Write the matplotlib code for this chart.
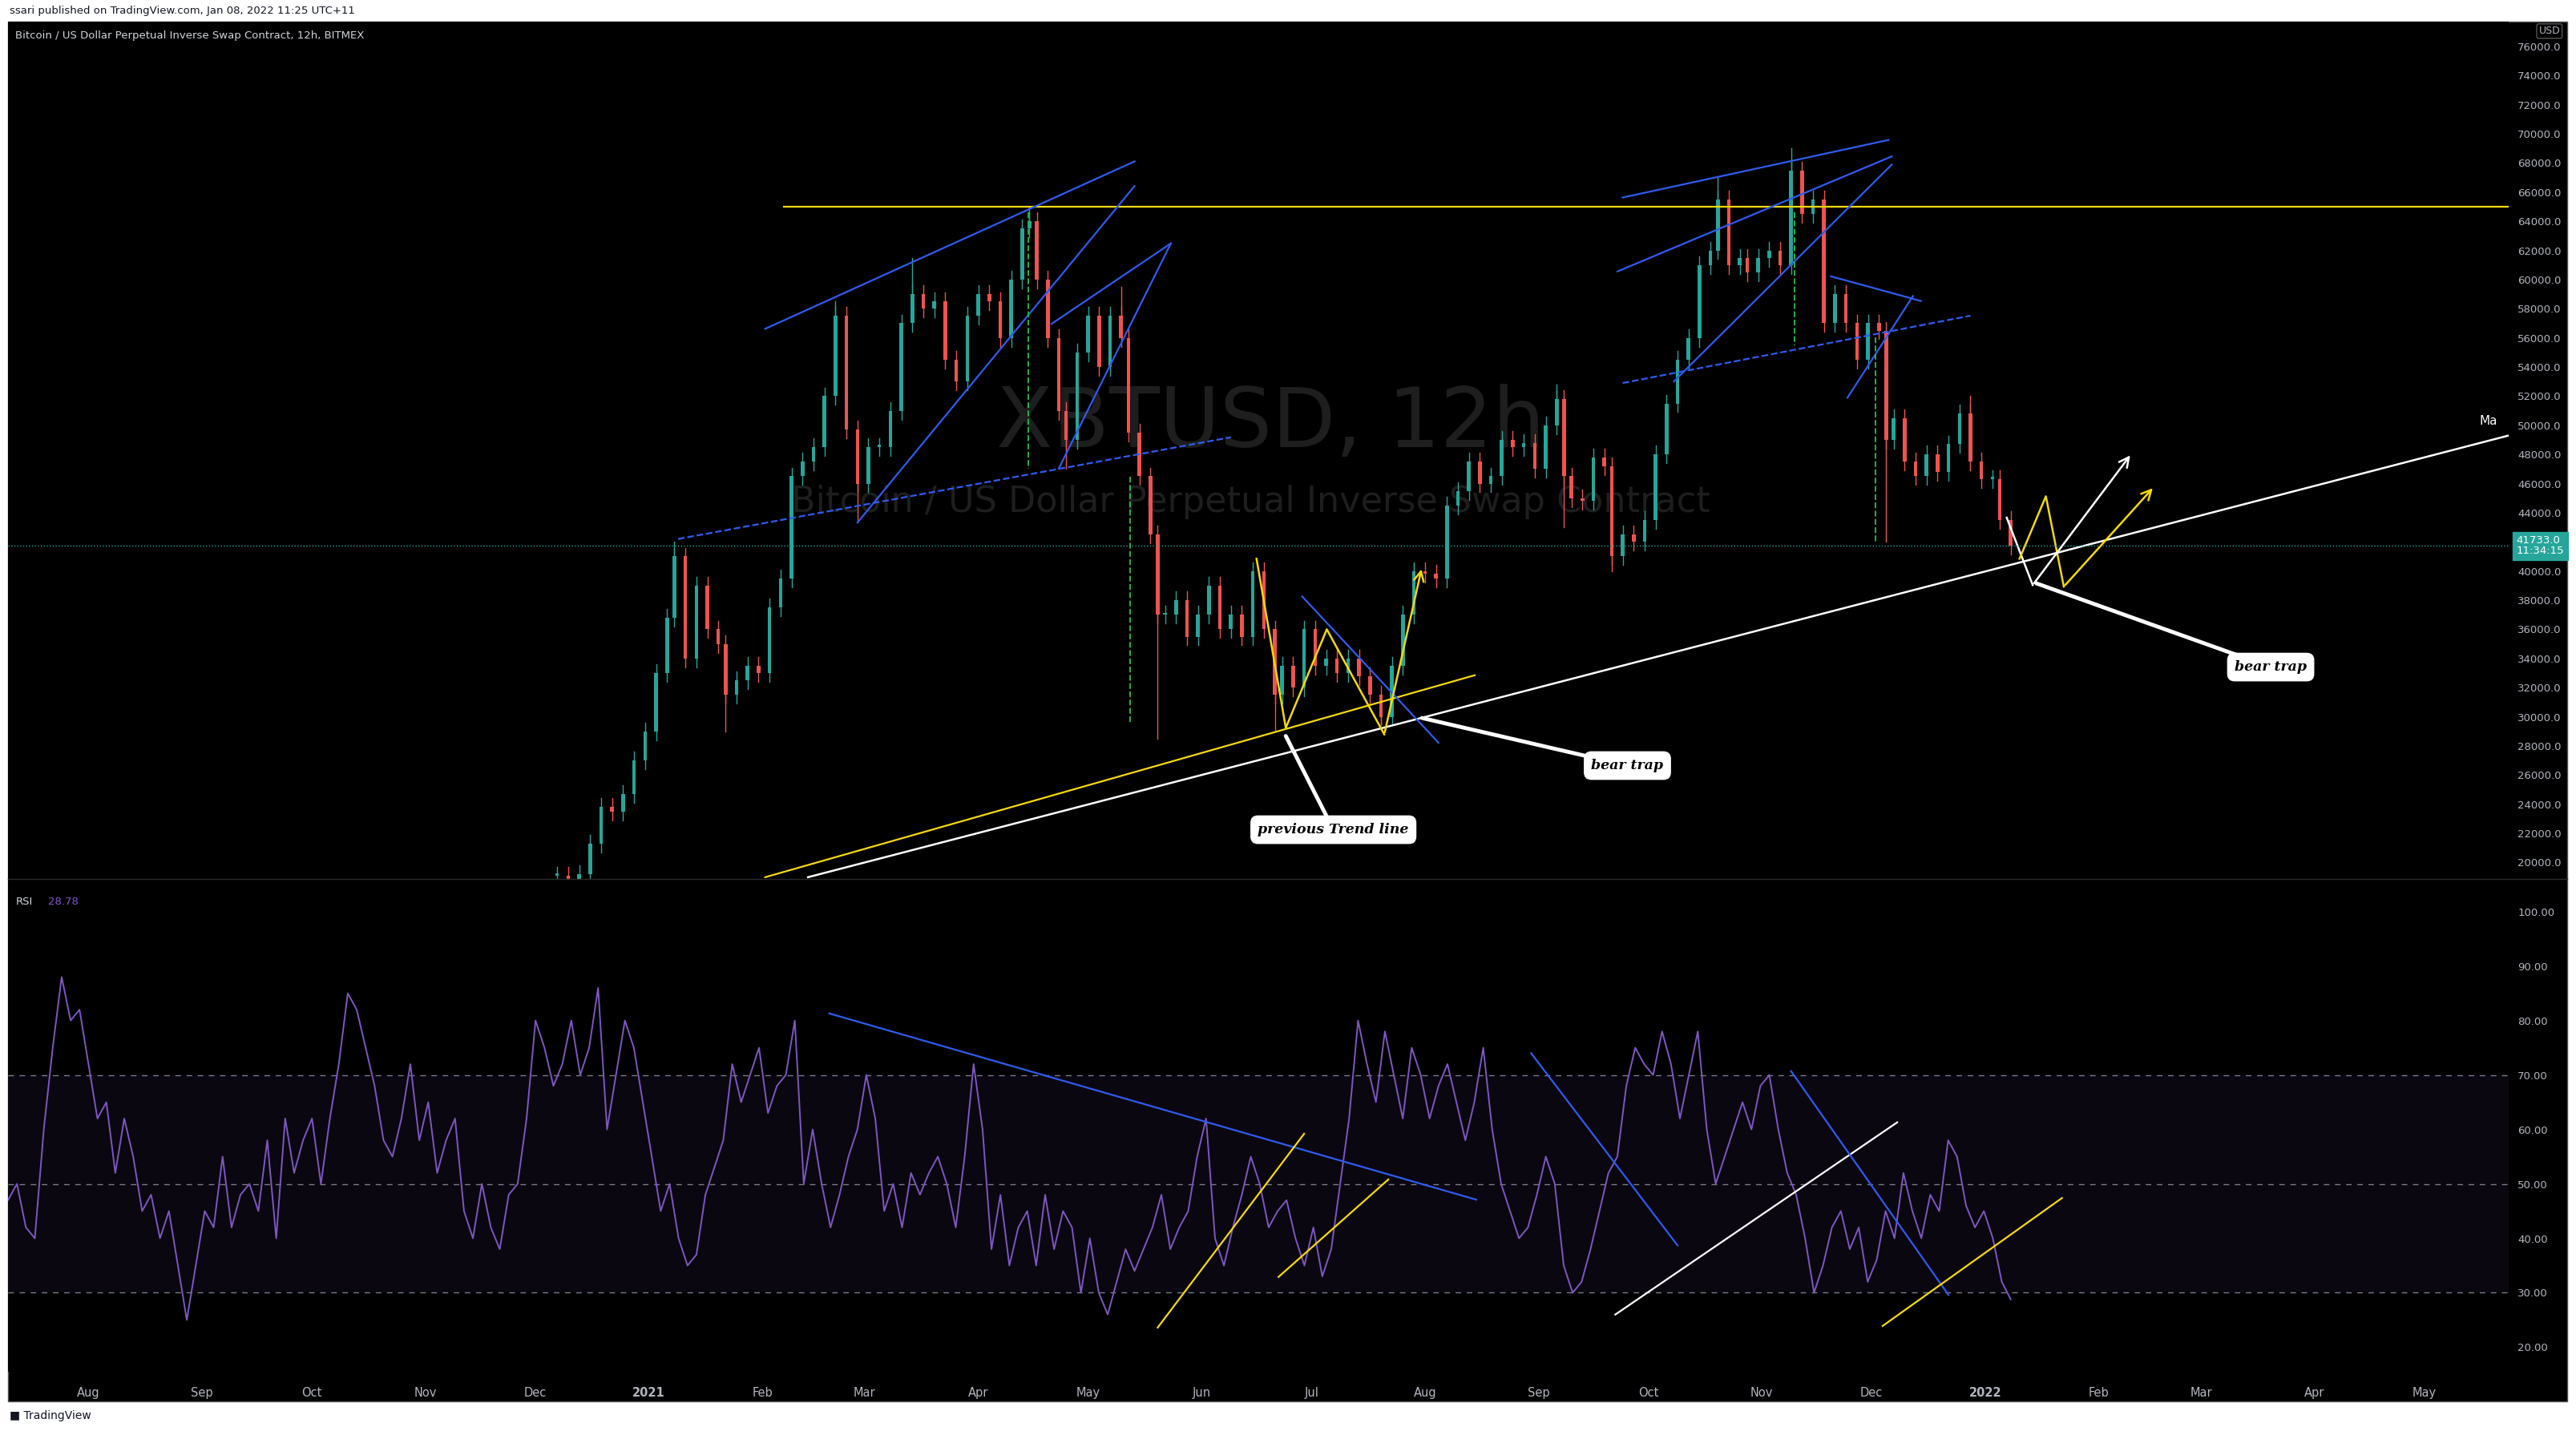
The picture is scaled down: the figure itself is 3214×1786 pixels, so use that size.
import numpy as np
import pandas as pd
import matplotlib
matplotlib.use("Agg")
import matplotlib.pyplot as plt
import matplotlib.dates as mdates
from matplotlib.patches import Rectangle

plt.rcParams['font.family'] = ['DejaVu Sans']

# ---- price data (approx. closes, ~3 day steps) ----
candle_dates = ["2020-12-07", "2020-12-10", "2020-12-13", "2020-12-16", "2020-12-19", "2020-12-22",
                "2020-12-25", "2020-12-28", "2020-12-31", "2021-01-03", "2021-01-06", "2021-01-08",
                "2021-01-11", "2021-01-14", "2021-01-17", "2021-01-20", "2021-01-22", "2021-01-25",
                "2021-01-28", "2021-01-31", "2021-02-03", "2021-02-06", "2021-02-09", "2021-02-12",
                "2021-02-15", "2021-02-18", "2021-02-21", "2021-02-24", "2021-02-27", "2021-03-02",
                "2021-03-05", "2021-03-08", "2021-03-11", "2021-03-14", "2021-03-17", "2021-03-20",
                "2021-03-23", "2021-03-26", "2021-03-29", "2021-04-01", "2021-04-04", "2021-04-07",
                "2021-04-10", "2021-04-13", "2021-04-15", "2021-04-17", "2021-04-20", "2021-04-23",
                "2021-04-25", "2021-04-28", "2021-05-01", "2021-05-04", "2021-05-07", "2021-05-10",
                "2021-05-12", "2021-05-15", "2021-05-18", "2021-05-20", "2021-05-22", "2021-05-25",
                "2021-05-28", "2021-05-31", "2021-06-03", "2021-06-06", "2021-06-09", "2021-06-12",
                "2021-06-15", "2021-06-18", "2021-06-21", "2021-06-23", "2021-06-26", "2021-06-29",
                "2021-07-02", "2021-07-05", "2021-07-08", "2021-07-11", "2021-07-14", "2021-07-17",
                "2021-07-20", "2021-07-23", "2021-07-26", "2021-07-29", "2021-08-01", "2021-08-04",
                "2021-08-07", "2021-08-10", "2021-08-13", "2021-08-16", "2021-08-19", "2021-08-22",
                "2021-08-25", "2021-08-28", "2021-08-31", "2021-09-03", "2021-09-06", "2021-09-08",
                "2021-09-10", "2021-09-13", "2021-09-16", "2021-09-19", "2021-09-21", "2021-09-24",
                "2021-09-27", "2021-09-30", "2021-10-03", "2021-10-06", "2021-10-09", "2021-10-12",
                "2021-10-15", "2021-10-18", "2021-10-20", "2021-10-23", "2021-10-26", "2021-10-28",
                "2021-10-31", "2021-11-03", "2021-11-06", "2021-11-09", "2021-11-12", "2021-11-15",
                "2021-11-18", "2021-11-21", "2021-11-24", "2021-11-27", "2021-11-30", "2021-12-03",
                "2021-12-05", "2021-12-07", "2021-12-10", "2021-12-13", "2021-12-16", "2021-12-19",
                "2021-12-22", "2021-12-25", "2021-12-28", "2021-12-31", "2022-01-03", "2022-01-05",
                "2022-01-08"]
closes = [19100, 18500, 19200, 21300, 23800, 23500,
          24700, 27000, 29000, 33000, 36800, 41000,
          34000, 39000, 36000, 35000, 31500, 32500,
          33500, 33000, 37500, 39500, 46500, 47500,
          48500, 52000, 57500, 49700, 46000, 48500,
          48500, 51000, 57000, 59000, 58000, 58500,
          54500, 53000, 57500, 59000, 58500, 56000,
          60000, 63500, 64000, 60000, 56000, 51000,
          49000, 55000, 57500, 54000, 57500, 56000,
          49500, 46500, 42500, 37000, 37000, 38000,
          35500, 37000, 39000, 36000, 37000, 35500,
          40000, 36000, 31500, 33500, 32000, 36000,
          33500, 34000, 33000, 34000, 32800, 31500,
          30000, 33500, 37000, 40000, 39800, 39500,
          44500, 45500, 47500, 46000, 46500, 49000,
          48500, 48800, 47000, 50000, 51800, 46500,
          45000, 44800, 47800, 47200, 41000, 42500,
          42000, 43500, 48000, 51500, 54500, 56000,
          61000, 62000, 65500, 61000, 61500, 60500,
          61500, 62000, 61000, 67500, 64500, 65500,
          57000, 59000, 57000, 54500, 57000, 56500,
          49000, 50500, 47500, 46500, 48000, 46800,
          48700, 50800, 47500, 46300, 46300, 43500,
          41733]
wick_dates = ["2021-01-08", "2021-01-22", "2021-02-21", "2021-02-27", "2021-03-14", "2021-04-15",
              "2021-04-25", "2021-05-10", "2021-05-20", "2021-06-21", "2021-07-20", "2021-07-29",
              "2021-09-06", "2021-09-08", "2021-09-21", "2021-10-20", "2021-11-09", "2021-12-05",
              "2021-12-28"]
wick_vals = [42000, 29000, 58500, 43500, 61500, 65000,
             47000, 59500, 28500, 29000, 29500, 40500,
             52800, 43000, 40000, 67000, 69000, 42000,
             52000]

# ---- RSI (14) readings ----
rsi_vals = [47, 50, 42, 40, 60, 75, 88, 80, 82, 72, 62, 65, 52, 62, 55, 45, 48, 40, 45, 35,
            25, 35, 45, 42, 55, 42, 48, 50, 45, 58, 40, 62, 52, 58, 62, 50, 62, 72, 85, 82,
            75, 68, 58, 55, 62, 72, 58, 65, 52, 58, 62, 45, 40, 50, 42, 38, 48, 50, 62, 80,
            75, 68, 72, 80, 70, 75, 86, 60, 70, 80, 75, 65, 55, 45, 50, 40, 35, 37, 48, 53,
            58, 72, 65, 70, 75, 63, 68, 70, 80, 50, 60, 50, 42, 48, 55, 60, 70, 62, 45, 50,
            42, 52, 48, 52, 55, 50, 42, 55, 72, 60, 38, 48, 35, 42, 45, 35, 48, 38, 45, 42,
            30, 40, 30, 26, 32, 38, 34, 38, 42, 48, 38, 42, 45, 55, 62, 40, 35, 42, 48, 55,
            50, 42, 45, 47, 40, 35, 42, 33, 38, 50, 62, 80, 72, 65, 78, 70, 62, 75, 70, 62,
            68, 72, 65, 58, 65, 75, 60, 50, 45, 40, 42, 48, 55, 50, 35, 30, 32, 38, 45, 52,
            55, 68, 75, 72, 70, 78, 72, 62, 70, 78, 60, 50, 55, 60, 65, 60, 68, 70, 60, 52,
            48, 40, 30, 35, 42, 45, 38, 42, 32, 36, 45, 40, 52, 45, 40, 48, 45, 58, 55, 46,
            42, 45, 40, 32, 28.78]

# ---- drawings: (days after 2021-01-01, value) ----
price_lines = [
    ((37, 65000), (508, 65000), '#f5d90a', '-', 1.6),
    ((43.5, 18990), (508, 49300), 'white', '-', 1.8),
    ((31.8, 18990), (225.6, 32850), '#f5d90a', '-', 1.6),
    ((8, 42200), (159, 49180), '#2f5bf0', '--', 1.6),
    ((266, 52900), (361, 57520), '#2f5bf0', '--', 1.6),
    ((31.8, 56620), (132.7, 68110), '#2f5bf0', '-', 1.6),
    ((57, 43320), (132.7, 66420), '#2f5bf0', '-', 1.6),
    ((110, 56960), (142.6, 62480), '#2f5bf0', '-', 1.6),
    ((112, 47040), (142.6, 62480), '#2f5bf0', '-', 1.6),
    ((266, 65630), (338.6, 69580), '#2f5bf0', '-', 1.6),
    ((264.6, 60560), (339.5, 68450), '#2f5bf0', '-', 1.6),
    ((280, 53010), (339.5, 67890), '#2f5bf0', '-', 1.6),
    ((322.9, 60220), (347.5, 58530), '#2f5bf0', '-', 1.6),
    ((327.4, 51890), (345.3, 58870), '#2f5bf0', '-', 1.6),
    ((178.5, 38250), (215.7, 28220), '#2f5bf0', '-', 1.6),
    ((103.6, 64620), (103.6, 47040), '#22b14c', '--', 1.4),
    ((131.4, 46480), (131.4, 29580), '#22b14c', '--', 1.4),
    ((313, 64620), (313, 55490), '#22b14c', '--', 1.4),
    ((335, 56060), (335, 41970), '#22b14c', '--', 1.4),
]
zig_yellow_mid = [(166, 40845), (174, 29240), (185.2, 36000), (200.9, 28790), (211.2, 40280)]
zig_white_right = [(370.9, 43660), (378, 39040), (405, 48060)]
zig_yellow_right = [(374.4, 40845), (381.6, 45130), (386.5, 38930), (411.2, 45800)]
callouts = [((211.2, 29915), (267.3, 26650), 'bear trap'),
            ((174, 28680), (187, 22250), 'previous Trend line'),
            ((379, 39155), (443, 33410), 'bear trap')]
rsi_lines = [
    ((49.3, 81.3), (226, 47.1), '#2f5bf0'),
    ((139, 23.6), (179, 59.2), '#f5d90a'),
    ((172, 32.9), (202, 50.8), '#f5d90a'),
    ((241, 74), (281, 38.7), '#2f5bf0'),
    ((264, 26), (341, 61.3), 'white'),
    ((312, 70.7), (355, 29.6), '#2f5bf0'),
    ((337, 23.9), (386, 47.4), '#f5d90a'),
]

W, H = 3214, 1786
fig = plt.figure(figsize=(W / 100, H / 100), dpi=100, facecolor='white')
fig.patches.append(Rectangle((10 / W, 1 - 1749 / H), 3193 / W, 1722 / H, zorder=-10,
                             transform=fig.transFigure, facecolor='black', edgecolor='#555555', lw=1))
axp = fig.add_axes([10 / W, 1 - 1097 / H, 3120 / W, 1070 / H])
axr = fig.add_axes([10 / W, 1 - 1712 / H, 3120 / W, 615 / H], sharex=axp)

base = mdates.date2num(pd.Timestamp('2021-01-01'))
X = lambda d: base + d
grey = '#b2b5be'

for ax in (axp, axr):
    ax.set_facecolor('black')
    for s in ax.spines.values():
        s.set_visible(False)
    ax.yaxis.tick_right()
    ax.tick_params(colors=grey, labelsize=9.5, length=0, pad=8)

# candles
cx = mdates.date2num(pd.to_datetime(candle_dates))
opens = [closes[0]] + closes[:-1]
for x, o, c in zip(cx, opens, closes):
    col = '#26a69a' if c >= o else '#ef5350'
    axp.bar(x, max(abs(c - o), 150), bottom=min(o, c), width=1.0, color=col, lw=0)
    axp.plot([x, x], [min(o, c) - 600, max(o, c) + 600], color=col, lw=1)
wx = mdates.date2num(pd.to_datetime(wick_dates))
for x, v in zip(wx, wick_vals):
    i = int(np.argmin(np.abs(cx - x)))
    col = '#26a69a' if closes[i] >= opens[i] else '#ef5350'
    ref = min(opens[i], closes[i]) if v < closes[i] else max(opens[i], closes[i])
    axp.plot([cx[i], cx[i]], [ref, v], color=col, lw=1)

for (a, b, col, ls, lw) in price_lines:
    axp.plot([X(a[0]), X(b[0])], [a[1], b[1]], color=col, ls=ls, lw=lw)

def zig(pts, col):
    xs = [X(p[0]) for p in pts]
    ys = [p[1] for p in pts]
    axp.plot(xs[:-1], ys[:-1], color=col, lw=1.8)
    axp.annotate('', xy=(xs[-1], ys[-1]), xytext=(xs[-2], ys[-2]),
                 arrowprops=dict(arrowstyle='->', color=col, lw=1.8, mutation_scale=22))

zig(zig_yellow_mid, '#f5d90a')
zig(zig_white_right, 'white')
zig(zig_yellow_right, '#f5d90a')

for (a, b, txt) in callouts:
    axp.plot([X(a[0]), X(b[0])], [a[1], b[1]], color='white', lw=3.5, solid_capstyle='round')
    axp.text(X(b[0]), b[1], txt, color='black', fontsize=12.5, fontweight='bold', fontstyle='italic',
             ha='center', va='center', family='DejaVu Serif',
             bbox=dict(boxstyle='round,pad=0.5', fc='white', ec='white'))

# watermark
axp.text(0.505, 0.53, 'XBTUSD, 12h', transform=axp.transAxes, color='#1e1e1e', fontsize=74,
         ha='center', va='center', zorder=0)
axp.text(0.497, 0.44, 'Bitcoin / US Dollar Perpetual Inverse Swap Contract', transform=axp.transAxes,
         color='#1e1e1e', fontsize=32, ha='center', va='center', zorder=0)

# last price
axp.axhline(closes[-1], color='#26a69a', ls=':', lw=1)
axp.text(1.003, closes[-1], '%.1f\n11:34:15' % closes[-1], transform=axp.get_yaxis_transform(),
         color='white', fontsize=9.5, va='center', ha='left', linespacing=1.0,
         bbox=dict(boxstyle='square,pad=0.35', fc='#26a69a', ec='#26a69a'))
axp.text(X(505), 49900, 'Ma', color='white', fontsize=11, ha='right', va='bottom')
axp.text(1.012, 0.995, 'USD', transform=axp.transAxes, color=grey, fontsize=9, va='top', ha='left',
         bbox=dict(boxstyle='round,pad=0.2', fc='black', ec='#555555'))
axp.text(0.003, 0.99, 'Bitcoin / US Dollar Perpetual Inverse Swap Contract, 12h, BITMEX',
         transform=axp.transAxes, color='#d1d4dc', fontsize=9.5, va='top')

axp.set_ylim(18870, 77700)
axp.set_yticks([v for v in range(20000, 76001, 2000) if v != 42000])
axp.yaxis.set_major_formatter(matplotlib.ticker.FormatStrFormatter('%.1f'))
axp.tick_params(axis='x', labelbottom=False)

# RSI pane
rx = np.linspace(mdates.date2num(pd.Timestamp('2020-07-10')), mdates.date2num(pd.Timestamp('2022-01-08')),
                 len(rsi_vals))
axr.axhspan(30, 70, color='#7e57c2', alpha=0.09, lw=0)
for lv in (70, 50, 30):
    axr.axhline(lv, color='#787b86', ls=(0, (5, 5)), lw=1)
axr.plot(rx, rsi_vals, color='#7e57c2', lw=1.4)
for (a, b, col) in rsi_lines:
    axr.plot([X(a[0]), X(b[0])], [a[1], b[1]], color=col, lw=1.6)
axr.set_ylim(15.5, 106)
axr.set_yticks(np.arange(20, 101, 10))
axr.yaxis.set_major_formatter(matplotlib.ticker.FormatStrFormatter('%.2f'))
axr.text(0.003, 0.965, 'RSI', transform=axr.transAxes, color='#d1d4dc', fontsize=9.5, va='top')
axr.text(0.016, 0.965, '%.2f' % rsi_vals[-1], transform=axr.transAxes, color='#7e57c2', fontsize=9.5, va='top')
fig.add_artist(plt.Line2D([10 / W, 3203 / W], [1 - 1097 / H] * 2, color='#2a2a2a', lw=1))

# time axis
months = pd.date_range('2020-08-01', '2022-05-01', freq='MS')
axr.set_xticks(mdates.date2num(months))
axr.set_xticklabels([str(m.year) if m.month == 1 else m.strftime('%b') for m in months])
for lab, m in zip(axr.get_xticklabels(), months):
    if m.month == 1:
        lab.set_fontweight('bold')
axr.tick_params(axis='x', pad=14, labelsize=10.5)
axr.set_xlim(mdates.date2num(pd.Timestamp('2020-07-10')), mdates.date2num(pd.Timestamp('2022-05-24')))

fig.text(12 / W, 1 - 14 / H, 'ssari published on TradingView.com, Jan 08, 2022 11:25 UTC+11',
         fontsize=9.5, color='#131722', va='center')
fig.text(12 / W, 1 - 1767 / H, '\u25a0 TradingView', fontsize=10, color='#131722', va='center')

fig.savefig('out.png', dpi=100, facecolor='white')
